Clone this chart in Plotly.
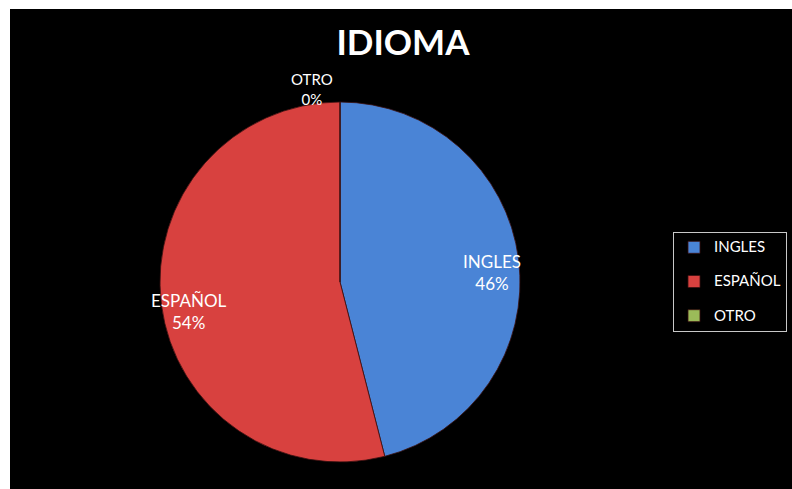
import math
import plotly.graph_objects as go

labels = ["INGLES", "ESPAÑOL", "OTRO"]
values = [46, 54, 0]
colors = ["#4a84d6", "#d8413f", "#9bbb59"]
title_text = "IDIOMA"

W, H = 792, 489
CX, CY, R = 340, 282, 180  # pie centre / radius in pixels (layout)

# legend entries get an extra blank line so the rows are spaced like the original
legend_labels = [
    "<span style='font-size:15px'>" + l + "</span>" + ("<br> " if i < len(labels) - 1 else "")
    for i, l in enumerate(labels)
]

fig = go.Figure()
fig.add_trace(go.Pie(
    labels=legend_labels,
    values=values,
    sort=False,
    direction="clockwise",
    rotation=0,
    marker=dict(colors=colors, line=dict(color="#3a1010", width=0.8)),
    textinfo="none",
    domain=dict(x=[(CX - R) / W, (CX + R) / W], y=[1 - (CY + R) / H, 1 - (CY - R) / H]),
    customdata=labels,
    hovertemplate="%{customdata}: %{percent}<extra></extra>",
))

# slice labels placed at the middle angle of each slice, computed from the values
total = sum(values)
cum = 0
for lab, v in zip(labels, values):
    frac_mid = (cum + v / 2) / total
    cum += v
    pct = round(100 * v / total)
    ang = 2 * math.pi * frac_mid
    if v == 0:
        # zero slice: label sits just outside the pie rim, like the original
        fig.add_annotation(
            x=(CX - 28) / W, y=1 - (CY - R - 193 + 180) / H, xref="paper", yref="paper",
            text=f"{lab}<br>{pct}%", showarrow=False, xanchor="center", yanchor="middle",
            font=dict(family="Lato", size=15, color="white"), align="center",
        )
        continue
    k = 0.85
    px = CX + k * R * math.sin(ang)
    py = CY - k * R * math.cos(ang) + 10
    fig.add_annotation(
        x=px / W, y=1 - py / H, xref="paper", yref="paper",
        text=f"{lab}<br>{pct}%", showarrow=False, xanchor="center", yanchor="middle",
        font=dict(family="Lato", size=17, color="white"), align="center",
    )

fig.update_layout(
    width=W, height=H,
    margin=dict(l=0, r=0, t=0, b=0),
    paper_bgcolor="black",
    plot_bgcolor="black",
    title=dict(text="<b>" + title_text + "</b>", x=403 / W, xanchor="center",
               y=1 - 43 / H, yanchor="middle",
               font=dict(family="Lato", size=35, color="white")),
    legend=dict(x=673 / W, y=1 - 232 / H, xanchor="left", yanchor="top",
                valign="top",
                bgcolor="black", bordercolor="#c8c8c8", borderwidth=1,
                font=dict(family="Lato", size=12, color="white")),
    shapes=[
        dict(type="rect", xref="paper", yref="paper", x0=0, x1=10 / W, y0=0, y1=1,
             fillcolor="white", line=dict(width=0)),
        dict(type="rect", xref="paper", yref="paper", x0=0, x1=1, y0=1 - 9 / H, y1=1,
             fillcolor="white", line=dict(width=0)),
    ],
)

fig.write_html("out.html")
